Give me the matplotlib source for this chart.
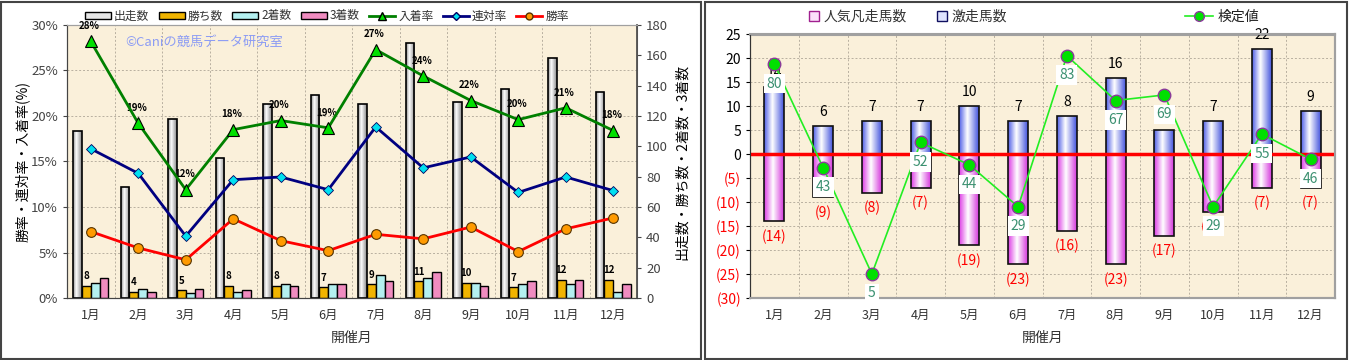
import matplotlib.pyplot as plt
import numpy as np
from matplotlib.patches import Patch, Rectangle
from matplotlib.lines import Line2D
from matplotlib.colors import LinearSegmentedColormap

plt.rcParams['font.family'] = ['Noto Sans CJK JP', 'DejaVu Sans']

# データ
months = ['1月', '2月', '3月', '4月', '5月', '6月', '7月', '8月', '9月', '10月', '11月', '12月']
runs = [110, 73, 118, 92, 128, 134, 128, 168, 129, 138, 158, 136]      # 出走数
wins = [8, 4, 5, 8, 8, 7, 9, 11, 10, 7, 12, 12]                        # 勝ち数
seconds = [10, 6, 3, 4, 9, 9, 15, 13, 10, 9, 9, 4]                     # 2着数
thirds = [13, 4, 6, 5, 8, 9, 11, 17, 8, 11, 12, 9]                     # 3着数
place_rate = [28.2, 19.2, 11.9, 18.5, 19.5, 18.7, 27.3, 24.4, 21.7, 19.6, 20.9, 18.4]   # 入着率
rentai_rate = [16.4, 13.7, 6.8, 13.0, 13.3, 11.9, 18.8, 14.3, 15.5, 11.6, 13.3, 11.8]  # 連対率
win_rate = [7.3, 5.5, 4.2, 8.7, 6.3, 5.2, 7.0, 6.5, 7.8, 5.1, 7.6, 8.8]                 # 勝率

gekiso = [14, 6, 7, 7, 10, 7, 8, 16, 5, 7, 22, 9]          # 激走馬数
bonso = [14, 9, 8, 7, 19, 23, 16, 23, 17, 12, 7, 7]        # 人気凡走馬数
kentei = [80, 43, 5, 52, 44, 29, 83, 67, 69, 29, 55, 46]   # 検定値

W, H = 1351, 360
fig = plt.figure(figsize=(W / 100, H / 100), dpi=100)

gray_cm = LinearSegmentedColormap.from_list('g', [(0, '#909090'), (0.38, '#ffffff'), (1, '#888888')])
blue_cm = LinearSegmentedColormap.from_list('b', [(0, '#4f5fe6'), (0.42, '#ffffff'), (1, '#4454dc')])
pink_cm = LinearSegmentedColormap.from_list('p', [(0, '#dc3ce4'), (0.45, '#ffffff'), (1, '#d438dc')])
grad = np.linspace(0, 1, 64).reshape(1, -1)


def gradient_bars(ax, bars, cmap, z):
    for r in bars:
        x, y, w, h = r.get_x(), r.get_y(), r.get_width(), r.get_height()
        im = ax.imshow(grad, extent=[x, x + w, y, y + h], aspect='auto', cmap=cmap,
                       zorder=z, interpolation='bilinear')
        im.set_clip_path(r)


bg = '#faf0da'
gridc = '#b8b0a0'
x = np.arange(12)

# ---------------- 左のグラフ ----------------
ax = fig.add_axes([67 / W, 1 - 298 / H, 570 / W, 273 / H])
ax.set_facecolor(bg)
ax2 = ax.twinx()
ax.yaxis.tick_right()
ax.yaxis.set_label_position('right')
ax2.yaxis.tick_left()
ax2.yaxis.set_label_position('left')

bw = 0.185
b_runs = ax.bar(x - 1.5 * bw, runs, bw, facecolor='none', edgecolor='black', lw=1.2, zorder=2.1)
gradient_bars(ax, b_runs, gray_cm, 2)
ax.bar(x - 0.5 * bw, wins, bw, color='#f0b400', edgecolor='black', lw=1, zorder=2)
ax.bar(x + 0.5 * bw, seconds, bw, color='#b4f0f0', edgecolor='black', lw=1, zorder=2)
ax.bar(x + 1.5 * bw, thirds, bw, color='#f08cc0', edgecolor='black', lw=1, zorder=2)
for i, v in enumerate(wins):
    ax.annotate(str(v), (x[i] - 0.5 * bw, v), xytext=(0, 7), textcoords='offset points',
                ha='center', va='center', fontsize=7, fontweight='bold', zorder=1.8)

for p in range(5, 30, 5):
    ax.axhline(p * 6, color=gridc, lw=0.7, ls=(0, (2, 2)), zorder=0.5)
for i in range(11):
    ax.axvline(i + 0.5, color=gridc, lw=0.7, ls=(0, (2, 2)), zorder=0.5)

ax.set_xlim(-0.5, 11.5)
ax.set_ylim(0, 180)
ax.set_yticks(range(0, 181, 20))
ax.set_xticks(x)
ax.set_xticklabels(months)
ax.tick_params(axis='x', length=0, pad=8, labelsize=9, colors='#333333')
ax.tick_params(axis='y', length=3, labelsize=9.5, colors='#444444')
ax.set_ylabel('出走数・勝ち数・2着数・3着数', fontsize=10, labelpad=5)
ax.set_xlabel('開催月', fontsize=10, color='#333333', labelpad=6)

ax2.plot(x, place_rate, color='#008000', lw=2, marker='^', ms=8, mfc='#00e000', mec='black', mew=0.8, zorder=5)
ax2.plot(x, rentai_rate, color='#000080', lw=2, marker='D', ms=5, mfc='#00e0f0', mec='#000060', mew=0.6, zorder=5)
ax2.plot(x, win_rate, color='#ff0000', lw=2, marker='o', ms=7, mfc='#ff9a00', mec='#553300', mew=0.8, zorder=5)
for i, v in enumerate(place_rate):
    ax2.annotate(f'{v:.0f}%', (x[i], v), xytext=(-1, 11), textcoords='offset points',
                 ha='center', va='center', fontsize=7, fontweight='bold')
ax2.set_ylim(0, 30)
ax2.set_yticks(range(0, 31, 5))
ax2.set_yticklabels([f'{t}%' for t in range(0, 31, 5)])
ax2.tick_params(axis='y', length=3, labelsize=9.5, colors='#444444')
ax2.set_ylabel('勝率・連対率・入着率(%)', fontsize=10, labelpad=1)
ax2.text(0.103, 0.935, '©Caniの競馬データ研究室', transform=ax2.transAxes, fontsize=9.5,
         color='#8c9cf4', ha='left', va='center')

for a in (ax, ax2):
    for s in ('top', 'right'):
        a.spines[s].set_color('#a0a0a0')
    a.spines['left'].set_color('#444444')
    a.spines['bottom'].set_color('#444444')
ax2.spines['right'].set_color('#444444')
ax2.spines['right'].set_linewidth(1.2)

h_left = [Patch(facecolor='#e6e6e6', edgecolor='black', label='出走数'),
          Patch(facecolor='#f0b400', edgecolor='black', label='勝ち数'),
          Patch(facecolor='#b4f0f0', edgecolor='black', label='2着数'),
          Patch(facecolor='#f08cc0', edgecolor='black', label='3着数'),
          Line2D([], [], color='#008000', lw=2, marker='^', ms=6, mfc='#00e000', mec='black', label='入着率'),
          Line2D([], [], color='#000080', lw=2, marker='D', ms=4, mfc='#00e0f0', mec='#000060', label='連対率'),
          Line2D([], [], color='#ff0000', lw=2, marker='o', ms=5, mfc='#ff9a00', mec='#553300', label='勝率')]
fig.legend(handles=h_left, loc='center', bbox_to_anchor=(327 / W, 1 - 16 / H), ncol=7, frameon=False,
           fontsize=8.5, handlelength=2.2, handleheight=0.5, handletextpad=0.25, columnspacing=0.8,
           labelcolor='#333333', borderaxespad=0, borderpad=0)

# ---------------- 右のグラフ ----------------
bx = fig.add_axes([750 / W, 1 - 298 / H, 585 / W, 263.5 / H])
bx.set_facecolor(bg)
bx2 = bx.twinx()

rw = 0.41
b_up = bx.bar(x, gekiso, rw, facecolor='none', edgecolor='#101010', lw=1.2, zorder=2.1)
gradient_bars(bx, b_up, blue_cm, 2)
b_dn = bx.bar(x, [-v for v in bonso], rw, facecolor='none', edgecolor='#101010', lw=1.2, zorder=2.1)
gradient_bars(bx, b_dn, pink_cm, 2)
for i in range(12):
    bx.annotate(str(gekiso[i]), (x[i], gekiso[i]), xytext=(0, 10), textcoords='offset points',
                ha='center', va='center', fontsize=10, color='black', zorder=3)
    bx.annotate(f'({bonso[i]})', (x[i], -bonso[i]), xytext=(0, -11), textcoords='offset points',
                ha='center', va='center', fontsize=10, color='#ff0000', zorder=3)
bx.axhline(0, color='#ff0000', lw=2.5, zorder=4)

for p in range(-25, 25, 5):
    bx.axhline(p, color=gridc, lw=0.7, ls=(0, (2, 2)), zorder=0.5)
for i in range(11):
    bx.axvline(i + 0.5, color=gridc, lw=0.7, ls=(0, (2, 2)), zorder=0.5)

bx.set_xlim(-0.5, 11.5)
bx.set_ylim(-30, 25)
yt = list(range(-30, 26, 5))
bx.set_yticks(yt)
bx.set_yticklabels([f'({-t})' if t < 0 else str(t) for t in yt])
for lab, t in zip(bx.get_yticklabels(), yt):
    lab.set_color('#ff0000' if t < 0 else 'black')
bx.tick_params(axis='y', length=3, labelsize=10)
bx.set_xticks(x)
bx.set_xticklabels(months)
bx.tick_params(axis='x', length=0, pad=8, labelsize=9, colors='#333333')
bx.set_xlabel('開催月', fontsize=10, color='#333333', labelpad=6)

bx2.plot(x, kentei, color='#22ee22', lw=1.2, marker='o', ms=9, mfc='#00e000', mec='#8a3a9a', mew=1, zorder=5)
for i, v in enumerate(kentei):
    bx2.annotate(str(v), (x[i], v), xytext=(0, -14), textcoords='offset points', ha='center', va='center',
                 fontsize=10, color='#3a9070', zorder=6,
                 bbox=dict(boxstyle='square,pad=0.2', facecolor='white', edgecolor='none'))
bx2.set_ylim(-3.6, 90.6)
bx2.set_yticks([])

for a in (bx, bx2):
    a.spines['top'].set_color('#a0a0a0')
    a.spines['right'].set_color('#a0a0a0')
    a.spines['top'].set_linewidth(1.5)
    a.spines['right'].set_linewidth(1.5)
    a.spines['left'].set_color('#333333')
    a.spines['bottom'].set_color('#a0a0a0')
    a.spines['bottom'].set_linewidth(1.5)

h_r1 = [Patch(facecolor='#fbe0fb', edgecolor='#a0208f', label='人気凡走馬数'),
        Patch(facecolor='#dfe3ff', edgecolor='#101060', label='激走馬数')]
fig.legend(handles=h_r1, loc='center', bbox_to_anchor=(908 / W, 1 - 17 / H), ncol=2, frameon=False,
           fontsize=10, handlelength=0.7, handleheight=0.7, handletextpad=0.3, columnspacing=2.2,
           labelcolor='#333333')
h_r2 = [Line2D([], [], color='#22ee22', lw=1.2, marker='o', ms=7, mfc='#00e000', mec='#8a3a9a', label='検定値')]
fig.legend(handles=h_r2, loc='center', bbox_to_anchor=(1222 / W, 1 - 17 / H), frameon=False,
           fontsize=10, handlelength=2.0, handletextpad=0.3, labelcolor='#222222')

# 枠
fig.add_artist(Rectangle((1 / W, 1 / H), 700 / W, 357 / H, transform=fig.transFigure,
                         fill=False, edgecolor='#444444', lw=1.5))
fig.add_artist(Rectangle((705 / W, 1 / H), 642 / W, 357 / H, transform=fig.transFigure,
                         fill=False, edgecolor='#444444', lw=1.5))

fig.savefig('out.png', dpi=100)
